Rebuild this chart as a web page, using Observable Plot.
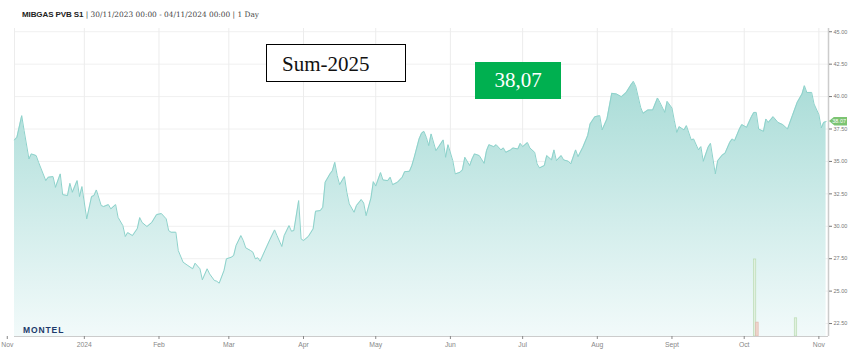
<!DOCTYPE html>
<html>
<head>
<meta charset="utf-8">
<script src="https://cdn.jsdelivr.net/npm/d3@7"></script>
<script src="https://cdn.jsdelivr.net/npm/@observablehq/plot@0.6"></script>
<style>
  html, body { margin: 0; padding: 0; background: #fff; }
  #wrap { position: relative; width: 859px; height: 363px; overflow: hidden; background: #fff; }
  #wrap svg { position: absolute; left: 0; top: 0; }
  .ov { position: absolute; white-space: nowrap; }
</style>
</head>
<body>
<div id="wrap"></div>
<script>
// ---------- data ----------
const dates = [
"2023-12-03","2023-12-04","2023-12-06","2023-12-07","2023-12-09","2023-12-10","2023-12-12","2023-12-13","2023-12-16","2023-12-17",
"2023-12-19","2023-12-20","2023-12-22","2023-12-23","2023-12-25","2023-12-26","2023-12-27","2023-12-29","2023-12-30","2023-12-31",
"2024-01-02","2024-01-04","2024-01-05","2024-01-06","2024-01-08","2024-01-09","2024-01-11","2024-01-12","2024-01-14","2024-01-15",
"2024-01-17","2024-01-18","2024-01-19","2024-01-21","2024-01-23","2024-01-24","2024-01-25","2024-01-27","2024-01-29","2024-01-31",
"2024-02-02","2024-02-04","2024-02-05","2024-02-06","2024-02-08","2024-02-09","2024-02-11","2024-02-13","2024-02-15","2024-02-16",
"2024-02-18","2024-02-19","2024-02-21","2024-02-22","2024-02-24","2024-02-25","2024-02-26","2024-02-28","2024-02-29","2024-03-02",
"2024-03-03","2024-03-04","2024-03-06","2024-03-07","2024-03-08","2024-03-10","2024-03-11","2024-03-12","2024-03-13","2024-03-14",
"2024-03-16","2024-03-18","2024-03-20","2024-03-21","2024-03-23","2024-03-24","2024-03-26","2024-03-27","2024-03-28","2024-03-30",
"2024-03-31","2024-04-01","2024-04-03","2024-04-05","2024-04-06","2024-04-08","2024-04-09","2024-04-10","2024-04-12","2024-04-13",
"2024-04-14","2024-04-15","2024-04-16","2024-04-18","2024-04-19","2024-04-20","2024-04-22","2024-04-23","2024-04-25","2024-04-26",
"2024-04-27","2024-04-29","2024-04-30","2024-05-01","2024-05-03","2024-05-04","2024-05-06","2024-05-07","2024-05-08","2024-05-10",
"2024-05-12","2024-05-13","2024-05-15","2024-05-16","2024-05-17","2024-05-19","2024-05-20","2024-05-21","2024-05-22","2024-05-23",
"2024-05-24","2024-05-26","2024-05-27","2024-05-29","2024-05-30","2024-05-31","2024-06-02","2024-06-03","2024-06-05","2024-06-06",
"2024-06-07","2024-06-09","2024-06-10","2024-06-11","2024-06-13","2024-06-15","2024-06-16","2024-06-17","2024-06-19","2024-06-20",
"2024-06-22","2024-06-23","2024-06-24","2024-06-26","2024-06-27","2024-06-29","2024-06-30","2024-07-01","2024-07-03","2024-07-04",
"2024-07-06","2024-07-07","2024-07-08","2024-07-10","2024-07-11","2024-07-13","2024-07-14","2024-07-15","2024-07-17","2024-07-18",
"2024-07-20","2024-07-21","2024-07-23","2024-07-24","2024-07-26","2024-07-28","2024-07-29","2024-07-31","2024-08-02","2024-08-03",
"2024-08-05","2024-08-07","2024-08-09","2024-08-11","2024-08-13","2024-08-15","2024-08-16","2024-08-17","2024-08-19","2024-08-20",
"2024-08-22","2024-08-24","2024-08-26","2024-08-27","2024-08-29","2024-08-30","2024-09-01","2024-09-02","2024-09-03","2024-09-04",
"2024-09-06","2024-09-07","2024-09-09","2024-09-10","2024-09-12","2024-09-13","2024-09-14","2024-09-16","2024-09-17","2024-09-19",
"2024-09-20","2024-09-22","2024-09-23","2024-09-25","2024-09-26","2024-09-27","2024-09-29","2024-09-30","2024-10-02","2024-10-04",
"2024-10-05","2024-10-06","2024-10-07","2024-10-09","2024-10-10","2024-10-11","2024-10-13","2024-10-15","2024-10-17","2024-10-19",
"2024-10-21","2024-10-23","2024-10-25","2024-10-26","2024-10-27","2024-10-29","2024-10-30","2024-11-01","2024-11-02","2024-11-03",
"2024-11-04"
];
const prices = [
36.66,36.86,38.53,37.37,35.19,35.58,35.45,34.93,33.52,33.78,
33.83,33.00,34.04,32.44,32.37,33.31,32.62,33.52,32.29,33.06,
30.57,32.29,32.37,32.80,31.60,31.52,31.67,31.34,31.67,30.69,
30.05,29.21,29.51,29.28,29.82,30.67,30.29,29.98,30.29,30.90,
30.98,30.57,29.67,29.54,29.54,28.13,27.23,26.97,26.72,27.15,
26.72,25.87,26.72,26.33,25.82,25.76,25.61,26.59,27.49,27.61,
27.74,28.51,29.28,28.90,28.34,28.13,28.00,27.49,27.57,27.30,
28.13,28.95,29.72,29.28,28.44,29.28,30.05,29.62,29.67,31.98,
29.03,28.90,29.21,29.80,31.16,31.21,31.46,33.39,34.04,34.29,
34.93,33.91,33.21,33.83,32.62,31.73,31.08,31.60,32.06,31.79,
30.82,32.17,33.44,33.10,34.14,33.57,33.52,33.78,33.21,33.39,
33.78,34.21,34.24,34.68,35.32,36.73,37.17,37.32,36.86,36.22,
37.12,35.83,36.09,36.66,35.32,36.29,35.06,34.04,34.16,34.35,
35.32,34.68,35.19,35.58,35.45,34.85,35.83,36.29,36.14,36.29,
35.89,36.04,35.70,35.89,36.04,35.96,36.39,36.14,36.45,36.04,
35.70,34.81,34.50,34.68,35.45,35.12,35.89,35.06,35.45,35.12,
35.01,34.81,35.89,35.37,36.09,36.99,37.89,38.45,38.53,37.43,
38.27,40.25,40.20,39.99,40.32,40.92,41.17,40.76,39.17,38.71,
38.97,38.97,39.89,39.55,38.78,39.63,39.12,38.14,37.24,37.68,
37.43,37.76,36.66,36.73,35.89,36.14,35.01,36.09,36.39,34.04,
35.06,35.52,35.62,36.47,36.73,36.60,37.50,37.84,37.63,38.45,
38.78,38.78,37.50,37.32,38.27,38.01,38.45,38.01,37.84,37.50,
38.53,39.55,40.20,40.84,40.32,40.32,39.43,38.61,37.58,38.01,
38.07
];
// volume bars (lots)
const volDates = ["2024-10-05", "2024-10-06", "2024-10-22"];
const volValues = [25, 4.5, 5.9];
const volSides = ["buy", "sell", "buy"];

const yTicks = [22.5, 25, 27.5, 30, 32.5, 35, 37.5, 40, 42.5, 45];
const xTickDates = ["2023-11-30","2024-01-01","2024-02-01","2024-03-01","2024-04-01","2024-05-01","2024-06-01","2024-07-01","2024-08-01","2024-09-01","2024-10-01","2024-11-01"];
const xTickLabels = ["Nov","2024","Feb","Mar","Apr","May","Jun","Jul","Aug","Sept","Oct","Nov"];

const headerName = "MIBGAS PVB S1";
const headerRest = "| 30/11/2023 00:00 - 04/11/2024 00:00 | 1 Day";
const boxLabel = "Sum-2025";
const lastLabel = "38,07";

// ---------- build ----------
const parse = d3.utcParse("%Y-%m-%d");
const series = dates.map((d, i) => ({date: parse(d), price: prices[i]}));
const vols = volDates.map((d, i) => ({date: parse(d), vol: volValues[i], side: volSides[i]}));
const xTicks = xTickDates.map(parse);
const labelOf = new Map(xTickDates.map((d, i) => [+parse(d), xTickLabels[i]]));
const yMin = 21.5, yMax = 45.25;
const xDomain = [parse("2023-12-03"), parse("2024-11-05")];
const volUnit = 0.2376; // price-axis units per lot

const gradDefs = () => {
  const defs = d3.create("svg:defs");
  const g = defs.append("linearGradient").attr("id", "areaGrad")
    .attr("x1", 0).attr("y1", 0).attr("x2", 0).attr("y2", 1);
  g.append("stop").attr("offset", "0%").attr("stop-color", "#a9dcd7");
  g.append("stop").attr("offset", "55%").attr("stop-color", "#d2edeb");
  g.append("stop").attr("offset", "100%").attr("stop-color", "#f2fafa");
  return defs.node();
};

const chart = Plot.plot({
  width: 859,
  height: 363,
  marginTop: 28,
  marginBottom: 27,
  marginLeft: 14,
  marginRight: 31,
  style: {background: "transparent", fontFamily: "'Liberation Sans', Arial, sans-serif"},
  x: {type: "utc", domain: xDomain, label: null},
  y: {domain: [yMin, yMax], label: null},
  marks: [
    gradDefs,
    Plot.gridY(yTicks, {stroke: "#f0f0f0", strokeOpacity: 1}),
    Plot.gridX(xTicks.slice(1), {stroke: "#ececec", strokeOpacity: 1}),
    Plot.ruleX([xDomain[0]], {stroke: "#ececec"}),
    Plot.areaY(series, {x: "date", y1: yMin, y2: "price", fill: "url(#areaGrad)"}),
    Plot.lineY(series, {x: "date", y: "price", stroke: "#8dd2cb", strokeWidth: 1}),
    Plot.rectY(vols, {
      x: "date", interval: "day", y1: yMin, y2: d => yMin + d.vol * volUnit,
      fill: d => d.side === "buy" ? "#e2f0df" : "#f0d6cf",
      stroke: d => d.side === "buy" ? "#b9dcb4" : "#e2b7ab",
      strokeWidth: 0.7, inset: 0
    }),
    Plot.ruleY([yMin], {stroke: "#cccccc", strokeWidth: 1}),
    Plot.ruleX([xDomain[1]], {stroke: "#cccccc", strokeWidth: 1.5}),
    Plot.axisY({
      anchor: "right", ticks: yTicks, tickFormat: d => d.toFixed(2), label: null,
      tickSize: 3, tickPadding: 2, fontSize: 5.5, color: "#777"
    }),
    Plot.axisX({
      anchor: "bottom", ticks: xTicks, tickFormat: d => labelOf.get(+d), label: null,
      tickSize: 3, tickPadding: 3, fontSize: 6.8, color: "#888"
    })
  ]
});

const wrap = document.getElementById("wrap");
wrap.appendChild(chart);

function addDiv(html, css) {
  const el = document.createElement("div");
  el.className = "ov";
  el.innerHTML = html;
  Object.assign(el.style, css);
  wrap.appendChild(el);
  return el;
}

// header
addDiv(
  `<span style="font-family:'Liberation Sans',Arial,sans-serif;font-weight:bold;font-size:8px;color:#222;letter-spacing:-0.1px">${headerName}</span>` +
  `<span style="font-family:'DejaVu Serif','Liberation Serif',serif;font-size:7.4px;color:#444"> ${headerRest}</span>`,
  {left: "22px", top: "7px", lineHeight: "10px"}
);

// Sum-2025 box
addDiv(boxLabel, {
  left: "266px", top: "44px", width: "138px", height: "36px",
  border: "1.3px solid #000", boxSizing: "content-box",
  fontFamily: "'Liberation Serif','Times New Roman',serif", fontSize: "21px",
  lineHeight: "38px", textIndent: "15px", color: "#111", background: "#fff"
});

// 38,07 green box
addDiv(lastLabel, {
  left: "475px", top: "62px", width: "86px", height: "37px",
  background: "#00b050", color: "#fff", textAlign: "center",
  fontFamily: "'Liberation Serif','Times New Roman',serif", fontSize: "21px", lineHeight: "37px"
});

// MONTEL logo
addDiv("MONTEL", {
  left: "23px", top: "325px", fontFamily: "'Liberation Sans',Arial,sans-serif",
  fontWeight: "bold", fontSize: "8.5px", letterSpacing: "0.9px", color: "#1d3a6b", lineHeight: "10px"
});

// last price tag on the right axis
const lastPrice = prices[prices.length - 1];
const ty = chart.scale("y").apply(lastPrice);
const tx = chart.scale("x").apply(xDomain[1]);
addDiv(lastPrice.toFixed(2), {
  left: (tx + 1) + "px", top: (ty - 4.5) + "px", width: "18px", height: "9px",
  background: "#7cc472", color: "#fff", fontFamily: "'Liberation Sans',Arial,sans-serif",
  fontSize: "5.5px", lineHeight: "9px", textAlign: "right", paddingRight: "1px", boxSizing: "border-box",
  clipPath: "polygon(0 50%, 30% 0, 100% 0, 100% 100%, 30% 100%)"
});
</script>
</body>
</html>
